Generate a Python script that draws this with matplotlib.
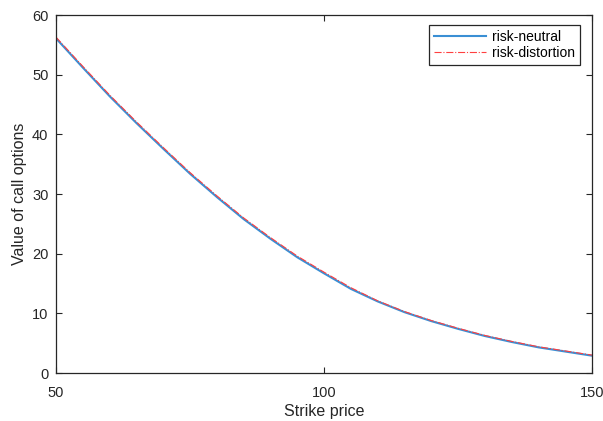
import matplotlib
matplotlib.use('Agg')
import matplotlib.pyplot as plt
import numpy as np

# Strike prices and option values
strike = [50, 55, 60, 65, 70, 75, 80, 85, 90, 95, 100,
          105, 110, 115, 120, 125, 130, 135, 140, 145, 150]
risk_neutral = [56.1, 51.2, 46.4, 41.9, 37.6, 33.4, 29.5, 25.8, 22.5, 19.4, 16.7,
                14.1, 12.0, 10.2, 8.7, 7.4, 6.2, 5.2, 4.3, 3.6, 2.9]
risk_distortion = [56.3, 51.4, 46.6, 42.1, 37.8, 33.6, 29.7, 26.0, 22.7, 19.6, 16.9,
                   14.3, 12.1, 10.3, 8.8, 7.5, 6.3, 5.3, 4.4, 3.7, 3.0]

plt.rcParams['font.family'] = ['Liberation Sans', 'DejaVu Sans']

fig = plt.figure(figsize=(6.03, 4.21), dpi=100)
ax = fig.add_axes([0.093, 0.114, 0.889, 0.850])

ax.plot(strike, risk_neutral, color='#3a8fd4', lw=1.5, label='risk-neutral')
ax.plot(strike, risk_distortion, color='#ff4040', lw=0.8, ls='-.', label='risk-distortion')

ax.set_xlim(50, 150)
ax.set_ylim(0, 60)
ax.set_xticks([50, 100, 150])
ax.set_yticks(np.arange(0, 61, 10))
ax.tick_params(direction='in', length=4, width=0.8, top=True, right=True,
               labelsize=10.5, colors='#262626')
ax.tick_params(axis='x', pad=9)
ax.tick_params(axis='y', pad=5.5)
for sp in ax.spines.values():
    sp.set_color('#262626')
    sp.set_linewidth(0.9)

ax.set_xlabel('Strike price', fontsize=11.5, color='#262626', labelpad=3)
ax.set_ylabel('Value of call options', fontsize=11.5, color='#262626', labelpad=4)

leg = ax.legend(loc='upper right', fontsize=10, fancybox=False, framealpha=1,
                edgecolor='#262626', borderpad=0.35, handlelength=3.7,
                handletextpad=0.5, labelspacing=0.15, borderaxespad=0,
                bbox_to_anchor=(0.978, 0.972))
leg.get_frame().set_linewidth(0.9)

fig.savefig('out.png', dpi=100)
